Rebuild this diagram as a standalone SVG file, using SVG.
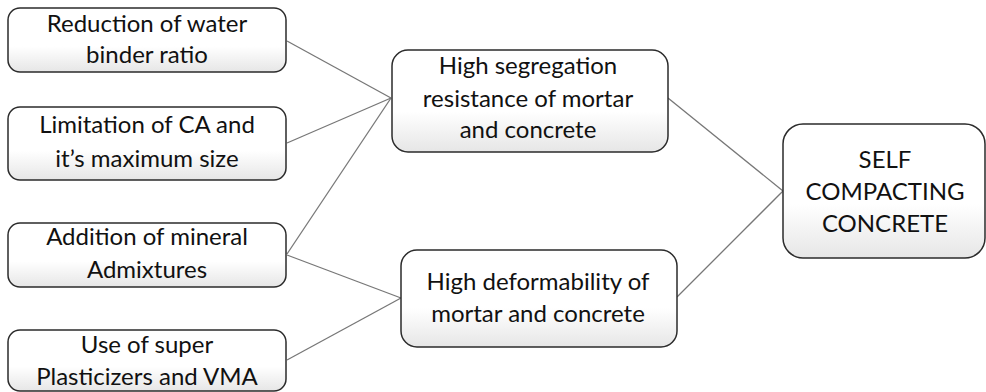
<svg xmlns="http://www.w3.org/2000/svg" width="986" height="392" viewBox="0 0 986 392">
<defs>
<linearGradient id="g" x1="0" y1="0" x2="0" y2="1">
<stop offset="0" stop-color="#ffffff"/>
<stop offset="0.6" stop-color="#ffffff"/>
<stop offset="1" stop-color="#e6e6e6"/>
</linearGradient>
</defs>
<style>
.box{fill:url(#g);stroke:#2b2b2b;stroke-width:1.5}
.t{font-family:Lato,"Liberation Sans",sans-serif;font-size:24px;fill:#111;text-anchor:middle}
.c{stroke:#777;stroke-width:1.3;fill:none}
</style>
<g id="connectors">
<line class="c" x1="287" y1="41" x2="391" y2="98"/>
<line class="c" x1="287" y1="143" x2="391" y2="98"/>
<line class="c" x1="287" y1="254" x2="391" y2="98"/>
<line class="c" x1="287" y1="255" x2="401" y2="298"/>
<line class="c" x1="287" y1="360" x2="401" y2="298"/>
<line class="c" x1="668" y1="98" x2="783" y2="191"/>
<line class="c" x1="677" y1="297" x2="783" y2="191"/>
</g>
<g id="n1">
<rect class="box" x="8" y="8" width="278" height="64" rx="12"/>
<text class="t" x="147" y="32">Reduction of water</text>
<text class="t" x="147" y="63">binder ratio</text>
</g>
<g id="n2">
<rect class="box" x="8" y="107" width="278" height="73" rx="12"/>
<text class="t" x="147" y="133">Limitation of CA and</text>
<text class="t" x="147" y="167">it’s maximum size</text>
</g>
<g id="n3">
<rect class="box" x="8" y="223" width="278" height="64" rx="12"/>
<text class="t" x="147" y="245">Addition of mineral</text>
<text class="t" x="147" y="278">Admixtures</text>
</g>
<g id="n4">
<rect class="box" x="8" y="330" width="278" height="61" rx="12"/>
<text class="t" x="147" y="353">Use of super</text>
<text class="t" x="147" y="385">Plasticizers and VMA</text>
</g>
<g id="n5">
<rect class="box" x="392" y="50" width="276" height="102" rx="16"/>
<text class="t" x="528" y="74">High segregation</text>
<text class="t" x="528" y="107">resistance of mortar</text>
<text class="t" x="528" y="138">and concrete</text>
</g>
<g id="n6">
<rect class="box" x="401" y="250" width="276" height="97" rx="16"/>
<text class="t" x="538" y="290">High deformability of</text>
<text class="t" x="538" y="322">mortar and concrete</text>
</g>
<g id="n7">
<rect class="box" x="783" y="124" width="202" height="134" rx="20"/>
<text class="t" x="885" y="168">SELF</text>
<text class="t" x="885" y="200">COMPACTING</text>
<text class="t" x="885" y="232">CONCRETE</text>
</g>
</svg>
